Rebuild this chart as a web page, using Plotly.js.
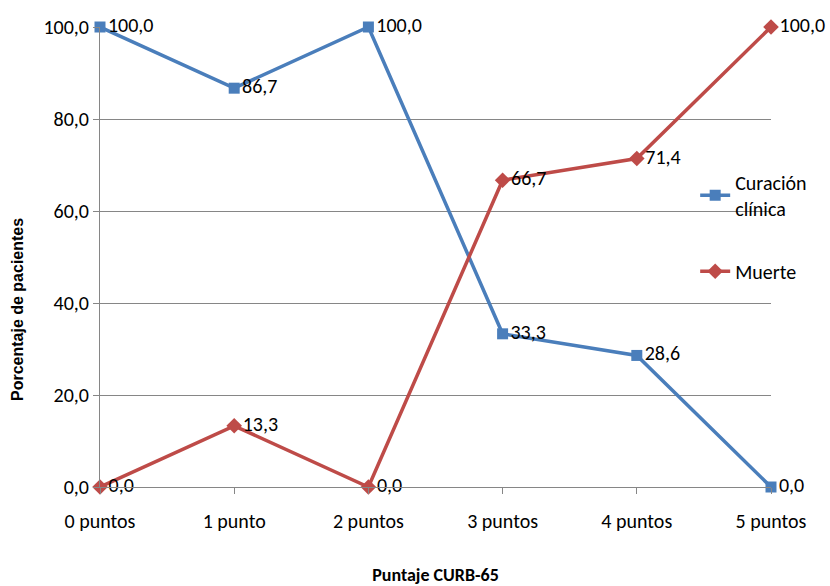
<!DOCTYPE html>
<html>
<head>
<meta charset="utf-8">
<script src="https://cdn.plot.ly/plotly-3.0.1.min.js"></script>
<style>
  html, body { margin: 0; padding: 0; background: #ffffff; }
  #chart { width: 830px; height: 586px; }
</style>
</head>
<body>
<div id="chart"></div>
<script>
// CURB-65 score categories
const categories = ['0 puntos', '1 punto', '2 puntos', '3 puntos', '4 puntos', '5 puntos'];

// Outcome percentages per score
const curacion = [100.0, 86.7, 100.0, 33.3, 28.6, 0.0];
const muerte = [0.0, 13.3, 0.0, 66.7, 71.4, 100.0];

const yTicks = [0, 20, 40, 60, 80, 100];

const fmt = v => v.toFixed(1).replace('.', ',');
const narrow = 'Carlito, Calibri, "Liberation Sans Narrow", sans-serif';
const idx = categories.map((_, i) => i);

const traces = [
  {
    x: idx, y: curacion,
    name: 'Curación<br>clínica',
    legendgroup: 'a',
    mode: 'lines+markers+text',
    line: { color: '#4A7EBB', width: 3.5 },
    marker: { symbol: 'square', size: 11, color: '#4A7EBB' },
    text: curacion.map(fmt),
    textposition: 'middle right',
    textfont: { family: narrow, size: 20, color: '#000000' },
    cliponaxis: false
  },
  {
    x: idx, y: muerte,
    name: 'Muerte',
    legendgroup: 'b',
    mode: 'lines+markers+text',
    line: { color: '#BE4B48', width: 3.5 },
    marker: { symbol: 'diamond', size: 12, color: '#BE4B48' },
    text: muerte.map(fmt),
    textposition: 'middle right',
    textfont: { family: narrow, size: 20, color: '#000000' },
    cliponaxis: false
  }
];

const layout = {
  width: 830, height: 586,
  margin: { l: 100, r: 59, t: 27, b: 99 },
  paper_bgcolor: '#ffffff',
  plot_bgcolor: '#ffffff',
  font: { family: narrow, size: 20, color: '#000000' },
  showlegend: true,
  legend: {
    x: 0.887, xanchor: 'left',
    y: 0.705, yanchor: 'top',
    bgcolor: 'rgba(0,0,0,0)',
    font: { family: narrow, size: 20, color: '#000000' },
    tracegroupgap: 34,
    itemwidth: 30
  },
  xaxis: {
    range: [0, 5],
    tickmode: 'array',
    tickvals: idx,
    ticktext: categories,
    showgrid: false,
    zeroline: false,
    showline: true,
    linecolor: '#868686',
    linewidth: 1,
    ticks: 'outside',
    ticklen: 6,
    tickcolor: '#868686',
    ticklabelstandoff: 10,
    tickfont: { family: narrow, size: 20, color: '#000000' },
    title: {
      text: '<b>Puntaje CURB-65</b>',
      font: { family: narrow, size: 18, color: '#000000' },
      standoff: 40
    }
  },
  yaxis: {
    range: [0, 100],
    tickmode: 'array',
    tickvals: yTicks,
    ticktext: yTicks.map(fmt),
    showgrid: true,
    gridcolor: '#868686',
    gridwidth: 1,
    zeroline: false,
    showline: true,
    linecolor: '#868686',
    linewidth: 1,
    ticks: 'outside',
    ticklen: 6,
    tickcolor: '#868686',
    tickfont: { family: narrow, size: 20, color: '#000000' }
  },
  annotations: [
    {
      // vertical axis title, sitting a little below the axis midpoint
      text: '<b>Porcentaje de pacientes</b>',
      textangle: -90,
      xref: 'paper', yref: 'paper',
      x: -0.122, y: 0.385,
      xanchor: 'center', yanchor: 'middle',
      showarrow: false,
      font: { family: '"Liberation Sans", Arial, sans-serif', size: 16, color: '#000000' }
    }
  ]
};

Plotly.newPlot('chart', traces, layout, { displayModeBar: false, responsive: false });
</script>
</body>
</html>
